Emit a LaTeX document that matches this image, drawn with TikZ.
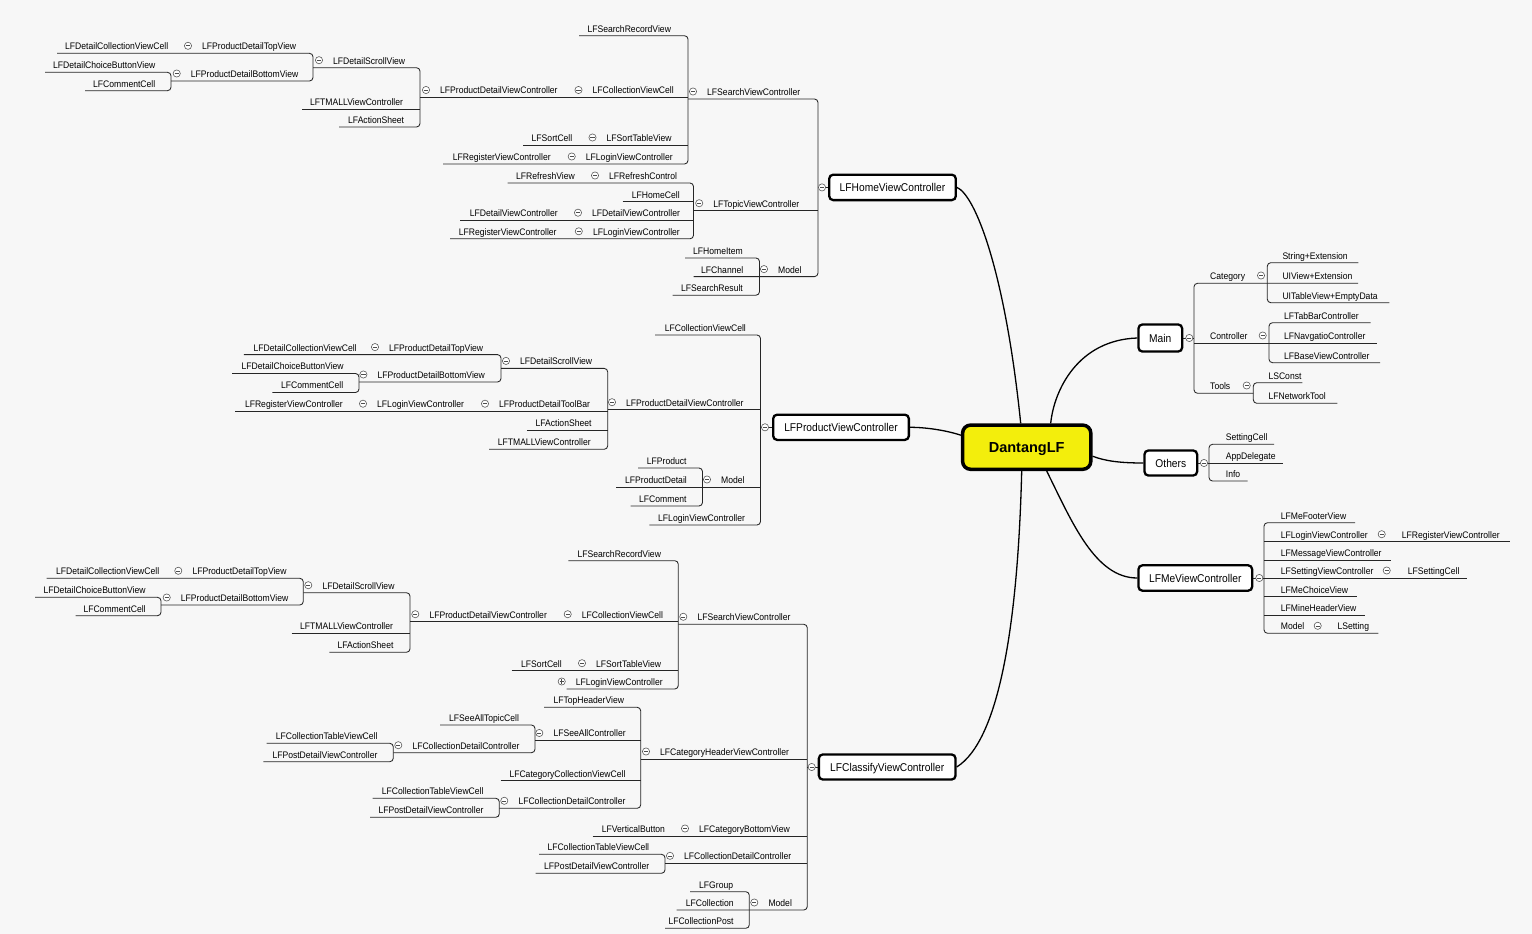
\documentclass[tikz,border=0pt]{standalone}
\usepackage{fontspec}
\newfontfamily\labfont[FakeStretch=0.905]{Liberation Sans}
\newfontfamily\rootfont{Liberation Sans}
\definecolor{bgc}{RGB}{247,247,247}
\definecolor{rooty}{RGB}{243,238,12}
\tikzset{
 lab/.style={font=\labfont\fontsize{9.5}{11}\selectfont, inner sep=0pt, anchor=base west, text=black},
 ln/.style={draw=black!85, line width=0.85pt},
 brk/.style={ln, rounded corners=3.5pt},
 cst/.style={draw=black!65, line width=0.6pt, fill=white},
 cmk/.style={draw=black!70, line width=0.6pt},
 mapbox/.style={draw=black, line width=2.3pt, rounded corners=4pt, fill=white, inner sep=0pt, text depth=0pt, font=\labfont\fontsize{11.3}{13}\selectfont},
 rootbox/.style={draw=black, line width=3.5pt, rounded corners=8pt, fill=rooty, inner sep=0pt, text depth=0pt, font=\rootfont\bfseries\fontsize{14.5}{16}\selectfont},
 curve/.style={draw=black, line width=1.3pt},
}
\newcommand\Lb[4]{\node[lab] (#1) at (#2,#3-3.6) {#4};}
\newcommand\Cm[2]{\draw[cst] (#1,#2) circle[radius=3.6pt]; \draw[cmk] (#1-2.1,#2) -- (#1+2.1,#2);}
\newcommand\Cp[2]{\Cm{#1}{#2}\draw[cmk] (#1,#2-2.1) -- (#1,#2+2.1);}
\newcommand\LbC[4]{\Lb{#1}{#2}{#3}{#4}\Cm{#2-14}{#3-7.5}}
\newcommand\Ln[3]{\draw[ln] (#1,#3) -- (#2,#3);}
\newcommand\Br[5]{\draw[brk] (#3,#2) -- (#1,#2) -- (#1,#4) -- (#5,#4);}
\begin{document}
\begin{tikzpicture}[x=1pt,y=-1pt]
\useasboundingbox (0,0) rectangle (1532,934);
\fill[bgc] (0,0) rectangle (1532,934);

% ---------- boxes ----------
\node[mapbox, minimum width=126.6pt, minimum height=25.4pt] (home) at (892.5,187.4) {LFHomeViewController};
\node[mapbox, minimum width=135.7pt, minimum height=25.2pt] (pv) at (841,427.3) {LFProductViewController};
\node[mapbox, minimum width=136.7pt, minimum height=25.1pt] (cv) at (887.2,767) {LFClassifyViewController};
\node[mapbox, minimum width=43.7pt, minimum height=27.1pt] (main) at (1160.3,338) {Main};
\node[mapbox, minimum width=52.7pt, minimum height=25.1pt] (oth) at (1170.8,463) {Others};
\node[mapbox, minimum width=113.7pt, minimum height=25.4pt] (me) at (1195.3,578) {LFMeViewController};
\node[rootbox, minimum width=128.2pt, minimum height=44.2pt] (dl) at (1026.7,447.2) {DantangLF};

% ---------- root curves ----------
\draw[curve] (home.east) .. controls (975,195) and (1005,270) .. ([xshift=-6pt]dl.north);
\draw[curve] ([xshift=24pt]dl.north) .. controls (1054,390) and (1078,340) .. (main.west);
\draw[curve] ([yshift=-9pt]dl.east) .. controls (1105,461) and (1120,463) .. (oth.west);
\draw[curve] ([xshift=20pt]dl.south) .. controls (1072,522) and (1095,578) .. (me.west);
\draw[curve] ([xshift=-5pt]dl.south) .. controls (1018,620) and (1000,740) .. (cv.east);
\draw[curve] ([yshift=12pt]dl.west) .. controls (945,430) and (925,427.3) .. (pv.east);

% ---------- box connectors ----------
\draw[ln] (home.west) -- (818,187.4);
\draw[ln] (pv.west) -- (760.5,427.3);
\draw[ln] (cv.west) -- (807.3,767);
\draw[ln] (main.east) -- (1194,338);
\draw[ln] (oth.east) -- (1209,463);
\draw[ln] (me.east) -- (1264,578);

% ---------- LFHomeViewController lines ----------
\Br{818}{99}{688}{276.6}{693.5}
\Ln{693.5}{818}{210.7}
\Br{688}{35.7}{579}{164}{443}
\Ln{420}{688}{97.5}
\Ln{523}{688}{145}
\Br{420}{67.7}{313}{127}{339}
\Ln{302}{420}{109}
\Br{313}{53.3}{57}{81}{171}
\Br{171}{72.3}{45}{90.7}{85}
\Br{693.5}{183}{507.6}{238.8}{450}
\Ln{622.6}{693.5}{201.6}
\Ln{460.3}{693.5}{220.2}
\Br{759.5}{258}{685}{295.2}{672.6}

% ---------- LFProductViewController lines ----------
\Br{760.5}{335}{655}{525}{649.4}
\Ln{607.7}{760.5}{409.7}
\Ln{616}{760.5}{487}
\Br{607.7}{368.4}{501}{449.3}{489}
\Ln{235}{607.7}{411.2}
\Ln{526.8}{607.7}{430.4}
\Br{501}{354.6}{243.8}{382}{359}
\Br{359}{373.5}{232}{392.5}{272.4}
\Br{702.5}{468}{638}{506}{630.5}

% ---------- LFClassifyViewController lines ----------
\Br{807.3}{624.3}{678.3}{910}{676.7}
\Ln{640.7}{807.3}{759}
\Ln{592.7}{807.3}{836}
\Ln{665}{807.3}{863.3}
\Br{678.3}{560.7}{568.3}{689}{566.7}
\Ln{410}{678.3}{621.7}
\Ln{511.7}{678.3}{670.7}
\Br{410}{592.7}{303.3}{652.3}{329.3}
\Ln{291.7}{410}{633.3}
\Br{303.3}{578.3}{46.7}{605}{161}
\Br{161}{597.3}{35}{615.7}{75.7}
\Br{640.7}{707.3}{544}{808.3}{499.3}
\Ln{535}{640.7}{740.5}
\Ln{500.7}{640.7}{780.7}
\Br{535}{725}{440}{752.7}{393.3}
\Br{393.3}{743.3}{266.7}{761.7}{263.3}
\Br{499.3}{798.3}{372.7}{817.3}{370}
\Br{665}{854.3}{539}{873.3}{535.7}
\Br{749.3}{891.7}{690}{928.3}{665}

% ---------- right side lines ----------
\Br{1194}{283.3}{1358}{393.3}{1253.3}
\Ln{1194}{1376.7}{343.3}
\Br{1267.3}{262.7}{1358.3}{302.7}{1389.3}
\Br{1269}{322.7}{1370.7}{362.7}{1380}
\Br{1253.3}{382.7}{1302.3}{403.3}{1337.3}
\Br{1209}{444.3}{1274}{481}{1247.7}
\Ln{1209}{1282.7}{463}
\Br{1264}{522.7}{1355}{633.3}{1378.3}
\Ln{1264}{1510}{541.7}
\Ln{1264}{1390.7}{560}
\Ln{1264}{1466.7}{578}
\Ln{1264}{1356.7}{596.7}
\Ln{1264}{1365}{615}

% ---------- box circles ----------
\Cm{822}{187.4}
\Cm{765}{427.3}
\Cm{811.7}{767}
\Cm{1189.3}{338}
\Cm{1204}{463}
\Cm{1259.3}{578}

% ---------- LFHomeViewController labels ----------
\LbC{a1}{707}{99}{LFSearchViewController}
\Lb{a2}{587.3}{35.7}{LFSearchRecordView}
\LbC{a3}{592.5}{97.5}{LFCollectionViewCell}
\LbC{a4}{440}{97.5}{LFProductDetailViewController}
\LbC{a5}{333}{67.7}{LFDetailScrollView}
\LbC{a6}{202}{53.3}{LFProductDetailTopView}
\Lb{a7}{65}{53.3}{LFDetailCollectionViewCell}
\LbC{a8}{190.7}{81}{LFProductDetailBottomView}
\Lb{a9}{53}{72.3}{LFDetailChoiceButtonView}
\Lb{a10}{93}{90.7}{LFCommentCell}
\Lb{a11}{310}{109}{LFTMALLViewController}
\Lb{a12}{348}{127}{LFActionSheet}
\LbC{a13}{606.5}{145}{LFSortTableView}
\Lb{a14}{531.5}{145}{LFSortCell}
\LbC{a15}{585.7}{164}{LFLoginViewController}
\Lb{a16}{452.7}{164}{LFRegisterViewController}
\LbC{b1}{713.2}{210.7}{LFTopicViewController}
\LbC{b2}{609}{183}{LFRefreshControl}
\Lb{b3}{516}{183}{LFRefreshView}
\Lb{b4}{631.7}{201.6}{LFHomeCell}
\LbC{b5}{592}{220.2}{LFDetailViewController}
\Lb{b6}{469.7}{220.2}{LFDetailViewController}
\LbC{b7}{592.8}{238.8}{LFLoginViewController}
\Lb{b8}{458.6}{238.8}{LFRegisterViewController}
\LbC{b9}{778}{276.6}{Model}
\Lb{b10}{692.9}{258}{LFHomeItem}
\Lb{b11}{701}{276.6}{LFChannel}
\Lb{b12}{681}{295.2}{LFSearchResult}

% ---------- LFProductViewController labels ----------
\Lb{c1}{664.6}{335}{LFCollectionViewCell}
\LbC{c2}{626}{409.7}{LFProductDetailViewController}
\LbC{c3}{520}{368.4}{LFDetailScrollView}
\LbC{c4}{389}{354.6}{LFProductDetailTopView}
\Lb{c5}{253.4}{354.6}{LFDetailCollectionViewCell}
\LbC{c6}{377.4}{382}{LFProductDetailBottomView}
\Lb{c7}{241.4}{373.5}{LFDetailChoiceButtonView}
\Lb{c8}{281}{392.5}{LFCommentCell}
\LbC{c9}{499}{411.2}{LFProductDetailToolBar}
\LbC{c10}{377}{411.2}{LFLoginViewController}
\Lb{c11}{244.8}{411.2}{LFRegisterViewController}
\Lb{c12}{535.4}{430.4}{LFActionSheet}
\Lb{c13}{497.6}{449.3}{LFTMALLViewController}
\LbC{c14}{721}{487}{Model}
\Lb{c15}{646.7}{468}{LFProduct}
\Lb{c16}{625}{487}{LFProductDetail}
\Lb{c17}{639}{506}{LFComment}
\Lb{c18}{658}{525}{LFLoginViewController}

% ---------- LFClassifyViewController labels ----------
\LbC{d1}{697.3}{624.3}{LFSearchViewController}
\Lb{d2}{577.3}{560.7}{LFSearchRecordView}
\LbC{d3}{581.7}{621.7}{LFCollectionViewCell}
\LbC{d4}{429.3}{621.7}{LFProductDetailViewController}
\LbC{d5}{322.3}{592.7}{LFDetailScrollView}
\LbC{d6}{192.3}{578.3}{LFProductDetailTopView}
\Lb{d7}{56}{578.3}{LFDetailCollectionViewCell}
\LbC{d8}{180.7}{605}{LFProductDetailBottomView}
\Lb{d9}{43.3}{597.3}{LFDetailChoiceButtonView}
\Lb{d10}{83.3}{615.7}{LFCommentCell}
\Lb{d11}{300}{633.3}{LFTMALLViewController}
\Lb{d12}{337.3}{652.3}{LFActionSheet}
\LbC{d13}{596}{670.7}{LFSortTableView}
\Lb{d14}{521}{670.7}{LFSortCell}
\Lb{d15}{575.7}{689}{LFLoginViewController}
\Cp{561.7}{681.5}
\LbC{e1}{660}{759}{LFCategoryHeaderViewController}
\Lb{e2}{553.3}{707.3}{LFTopHeaderView}
\LbC{e3}{553.3}{740.5}{LFSeeAllController}
\Lb{e4}{449}{725}{LFSeeAllTopicCell}
\LbC{e5}{412.3}{752.7}{LFCollectionDetailController}
\Lb{e6}{275.7}{743.3}{LFCollectionTableViewCell}
\Lb{e7}{272.3}{761.7}{LFPostDetailViewController}
\Lb{e8}{509.3}{780.7}{LFCategoryCollectionViewCell}
\LbC{e9}{518.3}{808.3}{LFCollectionDetailController}
\Lb{e10}{381.7}{798.3}{LFCollectionTableViewCell}
\Lb{e11}{378.3}{817.3}{LFPostDetailViewController}
\LbC{e12}{699}{836}{LFCategoryBottomView}
\Lb{e13}{601.7}{836}{LFVerticalButton}
\LbC{e14}{684}{863.3}{LFCollectionDetailController}
\Lb{e15}{547.3}{854.3}{LFCollectionTableViewCell}
\Lb{e16}{544}{873.3}{LFPostDetailViewController}
\LbC{e17}{768.3}{910}{Model}
\Lb{e18}{699}{891.7}{LFGroup}
\Lb{e19}{685.7}{910}{LFCollection}
\Lb{e20}{668.3}{928.3}{LFCollectionPost}

% ---------- right side labels ----------
\Lb{f1}{1210}{283.3}{Category} \Cm{1261}{275.5}
\Lb{f2}{1210}{343.3}{Controller} \Cm{1262.7}{335.5}
\Lb{f3}{1210}{393.3}{Tools} \Cm{1246.7}{385.5}
\Lb{f4}{1282.3}{262.7}{String+Extension}
\Lb{f5}{1282.3}{283.3}{UIView+Extension}
\Lb{f6}{1282.3}{302.7}{UITableView+EmptyData}
\Lb{f7}{1284}{322.7}{LFTabBarController}
\Lb{f8}{1284}{343.3}{LFNavgatioController}
\Lb{f9}{1284}{362.7}{LFBaseViewController}
\Lb{f10}{1268.3}{382.7}{LSConst}
\Lb{f11}{1268.3}{403.3}{LFNetworkTool}
\Lb{g1}{1225.7}{444.3}{SettingCell}
\Lb{g2}{1225.7}{463}{AppDelegate}
\Lb{g3}{1225.7}{481}{Info}
\Lb{h1}{1280.7}{522.7}{LFMeFooterView}
\Lb{h2}{1280.7}{541.7}{LFLoginViewController} \Cm{1381.7}{534.2}
\Lb{h3}{1401.7}{541.7}{LFRegisterViewController}
\Lb{h4}{1280.7}{560}{LFMessageViewController}
\Lb{h5}{1280.7}{578}{LFSettingViewController} \Cm{1386.7}{570.5}
\Lb{h6}{1407.7}{578}{LFSettingCell}
\Lb{h7}{1280.7}{596.7}{LFMeChoiceView}
\Lb{h8}{1280.7}{615}{LFMineHeaderView}
\Lb{h9}{1280.7}{633.3}{Model} \Cm{1317.7}{625.8}
\Lb{h10}{1337.3}{633.3}{LSetting}
\end{tikzpicture}
\end{document}
